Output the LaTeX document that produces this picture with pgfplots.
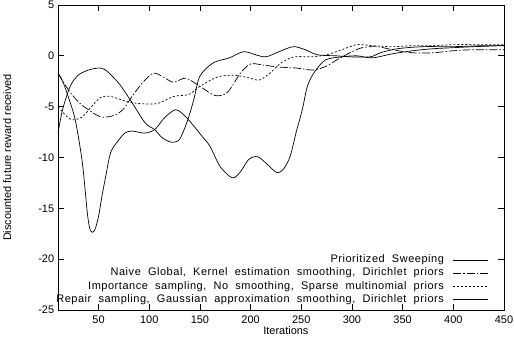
\documentclass[border=0pt]{standalone}
\usepackage{pgfplots}
\pgfplotsset{compat=1.18}
\usepackage{fontspec}
\setmainfont{Liberation Sans}
\newfontfamily\legfont{Liberation Sans}[LetterSpace=5, WordSpace=2]

\begin{document}
\fontsize{11}{13}\selectfont
\begin{tikzpicture}
\begin{axis}[
  scale only axis, width=446bp, height=305bp,
  xmin=10, xmax=450, ymin=-25, ymax=5,
  xtick={50,100,...,450}, ytick={-25,-20,...,5},
  tick align=inside, major tick length=6bp,
  xtick pos=both, ytick pos=both,
  axis line style={line width=0.8pt},
  every tick/.style={black, line width=0.8pt},
  /pgf/number format/assume math mode=true,
  tick label style={font=\fontsize{11}{13}\selectfont},
  xticklabel style={yshift=-2bp},
  xlabel={Iterations},
  ylabel={Discounted future reward received},
  xlabel style={at={(axis description cs:0.511,-0.069)}, anchor=center},
  ylabel style={at={(axis description cs:-0.114,0.5)}, anchor=center},
  legend plot pos=right,
  legend cell align=right,
  legend image code/.code={\draw[#1] (0bp,0bp) -- (35bp,0bp);},
  legend style={draw=none, fill=none, at={(rel axis cs:0.966,0.016)},
    anchor=south east, inner sep=0pt, row sep=2.8bp, column sep=9bp,
    nodes={inner sep=0pt, text height=8pt, text depth=2.5pt},
    font=\legfont\fontsize{11}{13}\selectfont},
]
% Prioritized Sweeping
\addplot[black, solid, line width=0.7pt, smooth] coordinates {
(10,-1.7) (15,-2.6) (20,-4.0) (27,-6.3) (34,-10.5) (39,-15.5) (42,-17.2) (46,-17.2)
(50,-15.8) (53,-14.0) (57,-11.9) (62,-9.5) (69,-8.4) (76,-7.6) (83,-7.4) (96,-7.6)
(106,-7.2) (115,-6.1) (126,-5.3) (135,-5.9) (144,-6.9) (152,-7.9) (160,-8.9)
(170,-10.9) (182,-12.0) (190,-11.4) (198,-10.2) (205,-9.9) (210,-10.1) (220,-11.0)
(226,-11.5) (232,-11.2) (239,-9.9) (245,-7.5) (251,-5.3) (256,-3.0) (263,-1.6)
(274,-0.4) (290,-0.1) (305,0.0) (320,-0.2) (340,0.2) (360,0.5) (380,0.7) (400,0.8)
(420,0.9) (450,1.0)};
\addlegendentry{Prioritized Sweeping}
% Naive Global
\addplot[black, line width=0.7pt, smooth, dash pattern=on 8bp off 2bp on 1.5bp off 2bp] coordinates {
(10,-1.7) (22,-3.6) (32,-4.7) (40,-5.3) (52,-6.0) (64,-5.9) (74,-5.3) (83,-4.0)
(93,-2.7) (104,-1.7) (114,-2.1) (124,-2.6) (136,-2.2) (150,-3.0) (165,-3.9)
(177,-3.6) (190,-1.7) (200,-0.8) (212,-0.9) (227,-1.1) (245,-1.2) (262,-1.4)
(275,-1.0) (285,-0.4) (298,0.3) (310,0.8) (325,0.9) (340,0.6) (360,0.3) (380,0.3)
(400,0.5) (420,0.6) (450,0.6)};
\addlegendentry{Naive Global, Kernel estimation smoothing, Dirichlet priors}
% Importance sampling
\addplot[black, line width=0.7pt, smooth, dash pattern=on 2bp off 2bp] coordinates {
(10,-5.0) (17,-5.8) (24,-6.3) (34,-6.0) (43,-5.0) (52,-4.1) (62,-4.0) (78,-4.5)
(91,-4.7) (108,-4.7) (124,-4.0) (139,-3.8) (150,-3.0) (167,-2.1) (183,-1.9)
(200,-2.2) (208,-2.4) (218,-1.8) (230,-0.7) (243,-0.1) (260,-0.1) (275,0.1)
(290,0.6) (305,1.1) (320,1.0) (340,0.9) (360,1.0) (380,1.0) (400,1.1) (430,1.1)
(450,1.1)};
\addlegendentry{Importance sampling, No smoothing, Sparse multinomial priors}
% Repair sampling
\addplot[black, solid, line width=0.7pt, smooth] coordinates {
(10,-7.6) (14.5,-5.3) (22,-3.0) (30,-1.9) (40,-1.4) (50,-1.2) (57,-1.4) (70,-2.7)
(83,-4.6) (96,-6.6) (106,-7.3) (112,-8.0) (122,-8.5) (130,-8.2) (138,-6.3)
(144,-4.3) (150,-2.0) (163,-0.7) (179,-0.2) (193,0.4) (205,0.1) (215,-0.1)
(228,0.4) (242,0.9) (254,0.6) (266,0.1) (285,0.0) (298,-0.1) (318,-0.1) (328,0.3)
(345,0.7) (370,0.9) (400,0.9) (430,1.0) (450,1.0)};
\addlegendentry{Repair sampling, Gaussian approximation smoothing, Dirichlet priors}
\end{axis}
\pgfresetboundingbox
\path[use as bounding box] (-58bp,-30bp) rectangle (456bp,310bp);
\end{tikzpicture}
\end{document}
